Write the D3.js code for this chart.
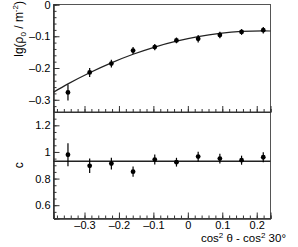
<!DOCTYPE html>
<html>
<head>
<meta charset="utf-8">
<script src="https://cdn.jsdelivr.net/npm/d3@7"></script>
<style>
  body { margin: 0; background: #fff; }
  text { font-family: "Liberation Sans", Arial, sans-serif; fill: #000; }
</style>
</head>
<body>
<div id="chart"></div>
<script>
// x = cos^2(theta) - cos^2(30deg) bin centres
var xVals = [-0.348, -0.285, -0.222, -0.159, -0.096, -0.033, 0.030, 0.093, 0.156, 0.219];
// top panel: lg(rho0 / m^-2)
var lgRho = [-0.277, -0.214, -0.186, -0.145, -0.134, -0.113, -0.108, -0.096, -0.0865, -0.081];
var lgRhoErr = [0.025, 0.014, 0.012, 0.011, 0.010, 0.009, 0.012, 0.010, 0.009, 0.010];
// fit curve
var fitX = [-0.39, -0.348, -0.285, -0.222, -0.159, -0.096, -0.033, 0.030, 0.093, 0.156, 0.219, 0.24];
var fitY = [-0.276, -0.250, -0.2148, -0.1837, -0.1568, -0.134, -0.1155, -0.1011, -0.0909, -0.0848, -0.083, -0.0834];
// bottom panel: c
var cVals = [0.979, 0.896, 0.913, 0.852, 0.943, 0.923, 0.965, 0.950, 0.938, 0.960];
var cErr = [0.086, 0.054, 0.044, 0.038, 0.038, 0.033, 0.037, 0.037, 0.034, 0.037];
var cMean = 0.93;

var xTicks = [-0.3, -0.2, -0.1, 0, 0.1, 0.2];
var topTicks = [0, -0.1, -0.2, -0.3];
var botTicks = [0.6, 0.8, 1, 1.2];

var width = 298, height = 247;
var left = 53.5, right = 270.5;
var topY = 4.5, midY = 112, botY = 218.5;

var svg = d3.select('#chart').append('svg')
    .attr('width', width).attr('height', height);

var x = d3.scaleLinear().domain([-0.39, 0.24]).range([left, right]);
var yTop = d3.scaleLinear().domain([-0.3385, 0]).range([midY, topY]);
var yBot = d3.scaleLinear().domain([0.5, 1.3]).range([botY, midY]);

var fmt = function(d) { return d3.format('~g')(d).replace('−', '–'); };

function minors(lo, hi, step) {
    var out = [];
    for (var v = lo; v <= hi + 1e-9; v += step) out.push(+v.toFixed(4));
    return out;
}

function styleAxis(g) {
    g.selectAll('path').attr('stroke', '#333');
    g.selectAll('line').attr('stroke', '#333');
    g.selectAll('text').attr('font-size', 11).attr('font-family', '"Liberation Sans", Arial, sans-serif');
}

// frames
svg.append('rect').attr('x', left).attr('y', topY).attr('width', right - left).attr('height', botY - topY)
    .attr('fill', 'none').attr('stroke', '#555').attr('stroke-width', 1);
svg.append('line').attr('x1', left).attr('x2', right).attr('y1', midY).attr('y2', midY)
    .attr('stroke', '#333');

// y axes
var gTopMinor = svg.append('g').attr('transform', `translate(${left},0)`)
    .call(d3.axisLeft(yTop).tickValues(minors(-0.32, 0, 0.02)).tickSize(-3).tickFormat(''));
var gTop = svg.append('g').attr('transform', `translate(${left},0)`)
    .call(d3.axisLeft(yTop).tickValues(topTicks).tickSize(-6).tickPadding(3).tickFormat(fmt));
var gBotMinor = svg.append('g').attr('transform', `translate(${left},0)`)
    .call(d3.axisLeft(yBot).tickValues(minors(0.55, 1.25, 0.05)).tickSize(-3).tickFormat(''));
var gBot = svg.append('g').attr('transform', `translate(${left},0)`)
    .call(d3.axisLeft(yBot).tickValues(botTicks).tickSize(-6).tickPadding(3).tickFormat(fmt));

// x axes (top panel without labels)
var gMidMinor = svg.append('g').attr('transform', `translate(0,${midY})`)
    .call(d3.axisBottom(x).tickValues(minors(-0.38, 0.24, 0.02)).tickSize(-3).tickFormat(''));
var gMid = svg.append('g').attr('transform', `translate(0,${midY})`)
    .call(d3.axisBottom(x).tickValues(xTicks).tickSize(-6).tickFormat(''));
var gXMinor = svg.append('g').attr('transform', `translate(0,${botY})`)
    .call(d3.axisBottom(x).tickValues(minors(-0.38, 0.24, 0.02)).tickSize(-3).tickFormat(''));
var gX = svg.append('g').attr('transform', `translate(0,${botY})`)
    .call(d3.axisBottom(x).tickValues(xTicks).tickSize(-6).tickPadding(3).tickFormat(fmt));

[gTopMinor, gTop, gBotMinor, gBot, gMidMinor, gMid, gXMinor, gX].forEach(styleAxis);

// fit curve
var fitPts = fitX.map((d, i) => [d, fitY[i]]);
svg.append('path').datum(fitPts)
    .attr('d', d3.line().x(d => x(d[0])).y(d => yTop(d[1])).curve(d3.curveMonotoneX))
    .attr('fill', 'none').attr('stroke', '#222').attr('stroke-width', 1.2);

// mean line in bottom panel
svg.append('line').attr('x1', left).attr('x2', right)
    .attr('y1', yBot(cMean)).attr('y2', yBot(cMean))
    .attr('stroke', '#222').attr('stroke-width', 1.3);

function drawPoints(vals, errs, yScale) {
    var g = svg.append('g');
    var pts = xVals.map((d, i) => ({x: d, y: vals[i], e: errs[i]}));
    g.selectAll('line.err').data(pts).enter().append('line')
        .attr('x1', d => x(d.x)).attr('x2', d => x(d.x))
        .attr('y1', d => yScale(d.y - d.e)).attr('y2', d => yScale(d.y + d.e))
        .attr('stroke', '#000').attr('stroke-width', 1.2);
    g.selectAll('circle').data(pts).enter().append('circle')
        .attr('cx', d => x(d.x)).attr('cy', d => yScale(d.y))
        .attr('r', 2.4).attr('fill', '#000');
}
drawPoints(lgRho, lgRhoErr, yTop);
drawPoints(cVals, cErr, yBot);

// axis titles
var t1 = svg.append('text').attr('transform', `translate(23,1) rotate(-90)`)
    .attr('text-anchor', 'end').attr('font-size', 12);
t1.append('tspan').text('lg(ρ');
t1.append('tspan').attr('font-size', 8).attr('dy', 3).text('0');
t1.append('tspan').attr('dy', -3).text(' / m');
t1.append('tspan').attr('font-size', 8).attr('dy', -5).text('-2');
t1.append('tspan').attr('dy', 5).text(')');

svg.append('text').attr('transform', `translate(23,${(midY + botY) / 2}) rotate(-90)`)
    .attr('text-anchor', 'middle').attr('font-size', 12).text('c');

var t2 = svg.append('text').attr('x', 286).attr('y', 242)
    .attr('text-anchor', 'end').attr('font-size', 11.5);
t2.append('tspan').text('cos');
t2.append('tspan').attr('font-size', 8).attr('dy', -4).text('2');
t2.append('tspan').attr('dy', 4).text(' θ - cos');
t2.append('tspan').attr('font-size', 8).attr('dy', -4).text('2');
t2.append('tspan').attr('dy', 4).text(' 30°');
</script>
</body>
</html>
